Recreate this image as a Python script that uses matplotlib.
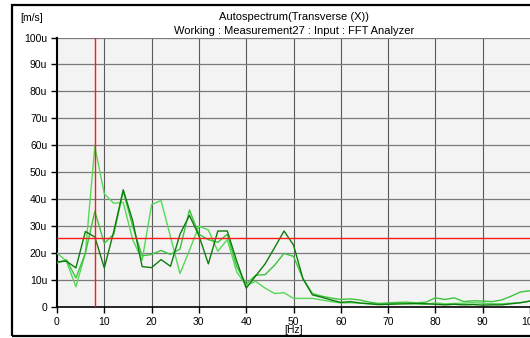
import matplotlib.pyplot as plt
from matplotlib.patches import Rectangle
from matplotlib.ticker import FuncFormatter
import numpy as np

plt.rcParams['font.family'] = ['Liberation Sans', 'DejaVu Sans']

# frequency axis, 2 Hz steps
freq = np.arange(0, 101, 2)

# autospectra in u(m/s)
dark = [16.8, 17.0, 14.5, 28.0, 26.0, 14.5, 28.0, 43.5, 32.0, 15.0,
        14.6, 17.6, 15.1, 27.0, 34.0, 26.5, 16.0, 28.2, 28.2, 17.0,
        7.0, 11.5, 16.0, 22.0, 28.2, 23.0, 10.5, 4.5, 3.6, 2.6,
        1.7, 2.0, 1.5, 1.2, 0.9, 1.0, 1.1, 1.2, 1.3, 1.2,
        1.0, 0.8, 1.0, 0.8, 0.9, 0.7, 0.8, 0.8, 1.2, 1.6, 2.2]
medium = [16.3, 17.5, 10.8, 20.0, 35.5, 23.6, 27.0, 43.0, 30.0, 19.0,
          19.5, 21.0, 19.5, 21.5, 36.0, 27.0, 25.0, 24.0, 27.0, 15.0,
          8.5, 11.8, 12.0, 15.5, 19.9, 18.8, 10.5, 5.0, 4.0, 3.3,
          2.8, 3.0, 2.6, 1.8, 1.3, 1.5, 1.7, 1.8, 1.5, 1.8,
          3.4, 2.8, 3.4, 2.0, 2.3, 2.2, 2.0, 2.6, 4.0, 5.6, 6.0]
light = [20.0, 17.0, 7.5, 20.0, 59.5, 42.0, 38.5, 38.8, 25.0, 17.4,
         38.0, 39.5, 26.0, 12.4, 21.0, 30.0, 28.6, 20.7, 25.0, 13.0,
         8.0, 9.5, 7.0, 5.0, 5.3, 3.2, 3.2, 3.2, 2.6, 2.0,
         1.5, 1.6, 1.4, 1.2, 1.0, 1.2, 1.5, 1.3, 1.2, 1.0,
         1.5, 1.2, 1.3, 1.4, 1.6, 1.4, 1.2, 1.2, 1.4, 1.6, 2.2]

cursor_x = 8
cursor_y = 25.7

W, H = 530, 338
fig = plt.figure(figsize=(W / 100, H / 100), dpi=100)
fig.patch.set_facecolor('white')

ax = fig.add_axes([57 / W, 31 / H, 473 / W, 269.5 / H])
ax.set_facecolor('#f3f3f3')

# grid (the 100 Hz line falls just outside the visible area)
for v in range(10, 100, 10):
    ax.axvline(v, color='#5a5a5a', lw=0.8, zorder=1)
for v in range(10, 101, 10):
    ax.axhline(v, color='#7a7a7a', lw=0.9, zorder=1)

ax.plot(freq, light, color='#55d955', lw=1.0, zorder=3)
ax.plot(freq, medium, color='#3cc43c', lw=1.0, zorder=3)
ax.plot(freq, dark, color='#0c7e0c', lw=1.0, zorder=4)

ax.axvline(cursor_x, color='#ff1a1a', lw=1.0, zorder=5)
ax.axhline(cursor_y, color='#ff1a1a', lw=1.0, zorder=5)

ax.set_xlim(0, 100)
ax.set_ylim(0, 100)
ax.set_xticks(range(0, 101, 10))
ax.set_yticks(range(0, 101, 10))
ax.yaxis.set_major_formatter(FuncFormatter(lambda v, p: '0' if v == 0 else f'{int(v)}u'))

for s in ['top', 'right']:
    ax.spines[s].set_visible(False)
ax.spines['left'].set_linewidth(1.5)
ax.spines['bottom'].set_linewidth(1.2)
ax.tick_params(axis='both', labelsize=7.5, length=4, width=1, pad=3, colors='black')
ax.set_xlabel('[Hz]', fontsize=7.5, labelpad=-1)

fig.text(20 / W, 1 - 18 / H, '[m/s]', fontsize=7.5, ha='left', va='center')
fig.text(294 / W, 1 - 17 / H, 'Autospectrum(Transverse (X))', fontsize=8, ha='center', va='center')
fig.text(294 / W, 1 - 31 / H, 'Working : Measurement27 : Input : FFT Analyzer',
         fontsize=8, ha='center', va='center')

fig.patches.append(Rectangle((11.5 / W, 2 / H), 1.5, 331 / H, transform=fig.transFigure,
                             fill=False, ec='black', lw=1.6))

fig.savefig('out.png', dpi=100)
